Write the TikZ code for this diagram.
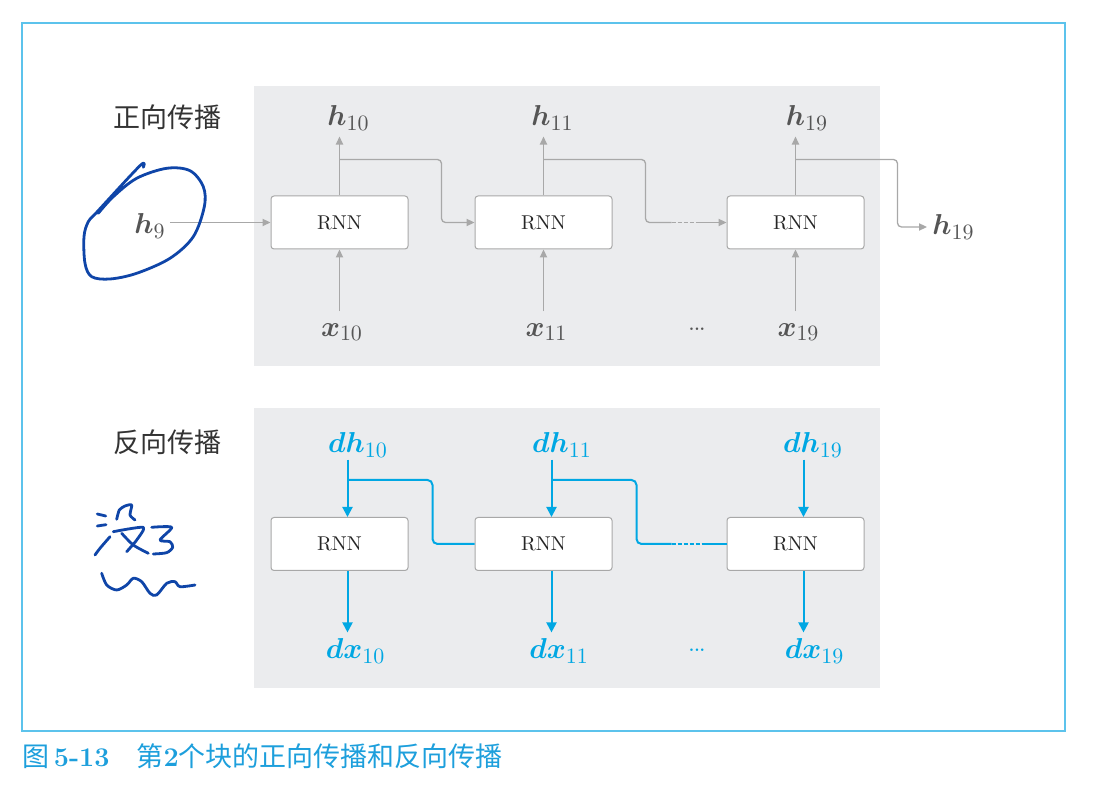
\documentclass[tikz,border=0pt]{standalone}
\usepackage{fontspec}
\usepackage{bm}
\newfontfamily\cjk{Noto Sans CJK SC}
\usetikzlibrary{arrows.meta, calc}
\definecolor{panelgray}{HTML}{EBECEE}
\definecolor{linegray}{HTML}{A8A8A8}
\definecolor{labgray}{HTML}{555555}
\definecolor{bpblue}{HTML}{00A7E3}
\definecolor{frameblue}{HTML}{5CC3EC}
\definecolor{capblue}{HTML}{1D9FDC}
\definecolor{inkblue}{HTML}{0F45A8}

\begin{document}
\begin{tikzpicture}[x=0.5pt,y=-0.5pt,
  rnnbox/.style={draw=linegray, fill=white, rounded corners=1.5pt, line width=0.5pt, minimum width=68.5pt, minimum height=26.5pt, inner sep=0pt, text=black!85},
  glab/.style={text=labgray, inner sep=0pt, font=\fontsize{15}{18}\selectfont},
  blab/.style={text=bpblue, inner sep=0pt, font=\fontsize{15}{18}\selectfont},
  garrow/.style={draw=linegray, line width=0.65pt, rounded corners=2pt, -{Triangle[length=4pt,width=3.6pt]}},
  gline/.style={draw=linegray, line width=0.65pt, rounded corners=2pt},
  barrow/.style={draw=bpblue, line width=1pt, rounded corners=2.5pt, -{Triangle[length=5pt,width=5pt]}},
  bline/.style={draw=bpblue, line width=1pt, rounded corners=2.5pt},
  ink/.style={draw=inkblue, line width=1.4pt, line cap=round, line join=round},
  dotlab/.style={inner sep=0pt, font=\bfseries\fontsize{8}{9}\selectfont},
  cjklab/.style={font=\cjk\fontsize{13.5}{16}\selectfont, text=black!80, inner sep=0pt}]
\useasboundingbox (0,0) rectangle (1094,785);
\draw[frameblue, line width=0.6pt] (22,23) rectangle (1065,731);
\fill[panelgray] (254,86) rectangle (880,366);
\fill[panelgray] (254,408) rectangle (880,688);

% forward pass
\node[cjklab] (fwdtitle) at (167,117) {正向传播};
\node[rnnbox] (fwd10) at (339.5,222.5) {RNN};
\node[rnnbox] (fwd11) at (543.5,222.5) {RNN};
\node[rnnbox] (fwd19) at (795.5,222.5) {RNN};
\node[glab] (h10) at (348.5,118) {$\bm{h}_{10}$};
\node[glab] (h11) at (552.5,118) {$\bm{h}_{11}$};
\node[glab] (h19) at (807,118) {$\bm{h}_{19}$};
\node[glab] (x10) at (342,332) {$\bm{x}_{10}$};
\node[glab] (x11) at (546.5,332) {$\bm{x}_{11}$};
\node[glab] (x19) at (798.5,332) {$\bm{x}_{19}$};
\node[glab] (h9) at (150,226) {$\bm{h}_{9}$};
\node[glab] (hout) at (953.5,227) {$\bm{h}_{19}$};
\node[dotlab, text=labgray] (fdots) at (697,329) {...};

\draw[garrow, shorten <=2pt] (h9.east |- fwd10.west) -- (fwd10.west);
\draw[garrow, shorten >=3pt] (fwd10.north) -- (fwd10.north |- h10.south);
\draw[garrow, shorten >=3pt] (fwd11.north) -- (fwd11.north |- h11.south);
\draw[garrow, shorten >=3pt] (fwd19.north) -- (fwd19.north |- h19.south);
\draw[garrow, shorten <=6pt] (fwd10.south |- x10.north) -- (fwd10.south);
\draw[garrow, shorten <=6pt] (fwd11.south |- x11.north) -- (fwd11.south);
\draw[garrow, shorten <=6pt] (fwd19.south |- x19.north) -- (fwd19.south);
\draw[garrow] ($(fwd10.north)+(0,-36)$) -- ++(102,0) |- (fwd11.west);
\draw[gline] ($(fwd11.north)+(0,-36)$) -- ++(102,0) |- ($(fwd19.west)+(-55,0)$);
\draw[gline, dash pattern=on 2pt off 1pt] ($(fwd19.west)+(-55,0)$) -- ($(fwd19.west)+(-27,0)$);
\draw[garrow] ($(fwd19.west)+(-27,0)$) -- (fwd19.west);
\draw[garrow, shorten >=2.5pt] ($(fwd19.north)+(0,-36)$) -- ++(102,0) |- (hout.west);

% backward pass
\node[cjklab] (bwdtitle) at (167,442) {反向传播};
\node[rnnbox] (bwd10) at (339.5,544) {RNN};
\node[rnnbox] (bwd11) at (543.5,544) {RNN};
\node[rnnbox] (bwd19) at (795.5,544) {RNN};
\node[blab] (dh10) at (358,445) {$\bm{dh}_{10}$};
\node[blab] (dh11) at (562,445) {$\bm{dh}_{11}$};
\node[blab] (dh19) at (813,445) {$\bm{dh}_{19}$};
\node[blab] (dx10) at (355.5,651) {$\bm{dx}_{10}$};
\node[blab] (dx11) at (559,651) {$\bm{dx}_{11}$};
\node[blab] (dx19) at (814.5,651) {$\bm{dx}_{19}$};
\node[dotlab, text=bpblue] (bdots) at (697,650) {...};

\draw[barrow, shorten <=1pt] ($(bwd10.north |- dh10.south)+(8,0)$) -- ($(bwd10.north)+(8,0)$);
\draw[barrow, shorten <=1pt] ($(bwd11.north |- dh11.south)+(8,0)$) -- ($(bwd11.north)+(8,0)$);
\draw[barrow, shorten <=1pt] ($(bwd19.north |- dh19.south)+(8,0)$) -- ($(bwd19.north)+(8,0)$);
\draw[barrow, shorten >=3pt] ($(bwd10.south)+(8,0)$) -- ($(bwd10.south |- dx10.north)+(8,0)$);
\draw[barrow, shorten >=3pt] ($(bwd11.south)+(8,0)$) -- ($(bwd11.south |- dx11.north)+(8,0)$);
\draw[barrow, shorten >=3pt] ($(bwd19.south)+(8,0)$) -- ($(bwd19.south |- dx19.north)+(8,0)$);
\draw[bline] ($(bwd10.north)+(8,-37)$) -- ++(85,0) |- (bwd11.west);
\draw[bline] ($(bwd11.north)+(8,-37)$) -- ++(85,0) |- ($(bwd19.west)+(-55,0)$);
\draw[bline, dash pattern=on 2pt off 1pt] ($(bwd19.west)+(-55,0)$) -- ($(bwd19.west)+(-25,0)$);
\draw[bline] ($(bwd19.west)+(-25,0)$) -- (bwd19.west);

% handwritten marks
\draw[ink] plot[smooth, tension=0.55] coordinates {(143.3,167.3) (140,165.7) (96.7,212.3) (88.3,221.7) (84,236.7) (85,263.3) (91.7,276.7) (110,279) (136.7,273.3) (170,258.3) (193.3,236.7) (204.3,206.7) (203.3,186.7) (190,170.7) (166.7,168.3) (136.7,178.3) (113.3,196.7) (98.3,213.3)};
\draw[ink] (97.3,514) -- (105.7,516);
\draw[ink] (97.3,526) -- (106,524.7);
\draw[ink] plot[smooth] coordinates {(95,555) (100,548.3) (110,536.7)};
\draw[ink] plot[smooth, tension=0.4] coordinates {(116.7,519.3) (119.3,510) (125,506) (131.7,505) (130,515) (135,520)};
\draw[ink] plot[smooth, tension=0.4] coordinates {(113.3,531.7) (143.3,527.3) (136.7,540) (126.7,551.7)};
\draw[ink] plot[smooth] coordinates {(121.7,533.3) (133.3,545) (148.3,553.3)};
\draw[ink] plot[smooth, tension=0.45] coordinates {(151.7,527.3) (171.7,527.3) (160,540) (170,541.7) (172.7,547.3) (166.7,552.7) (153.3,554)};
\draw[ink] plot[smooth] coordinates {(101.7,573.3) (106.7,585) (116.7,590) (126.7,585) (133.3,578.3) (141.7,581.7) (150,593.3) (156.7,595) (166.7,583.3) (175,581.7) (180,586.7) (195,585)};

\node[anchor=west, text=capblue, inner sep=0pt, font=\fontsize{13.5}{16}\selectfont] (caption) at (22,756) {\cjk 图\,{\rmfamily\bfseries 5-13}\quad 第{\rmfamily\bfseries 2}个块的正向传播和反向传播};
\end{tikzpicture}
\end{document}
